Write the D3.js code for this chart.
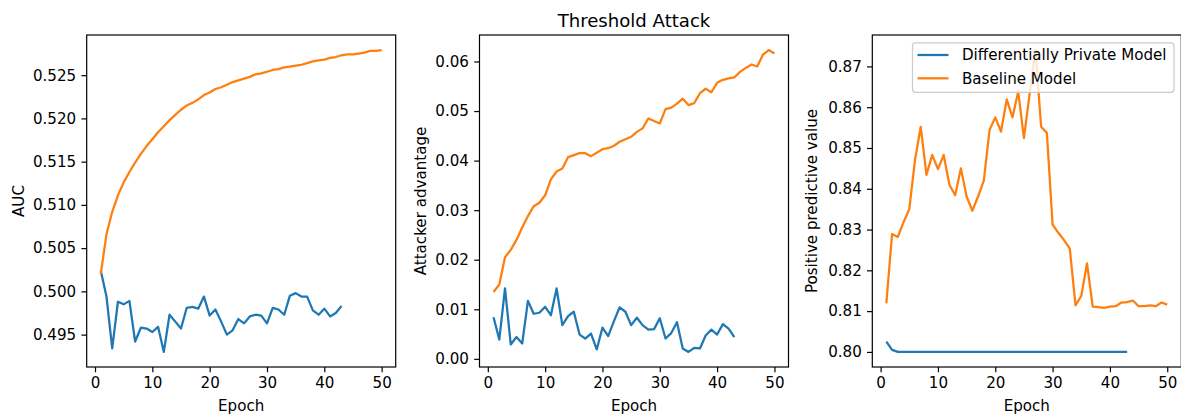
<!DOCTYPE html>
<html>
<head>
<meta charset="utf-8">
<script src="https://cdn.jsdelivr.net/npm/d3@7"></script>
<style>
  html, body { margin: 0; padding: 0; background: #fff; }
  svg { display: block; }
  text { font-family: "DejaVu Sans", sans-serif; fill: #000; }
</style>
</head>
<body>
<svg id="chart" width="1181" height="416"></svg>
<script>
// ---- data ----
const epochsDP = d3.range(1, 44);    // 1..43
const epochsBase = d3.range(1, 51);  // 1..50

const aucDP = [0.5024, 0.4994, 0.4934, 0.4988, 0.4985, 0.4989, 0.4942, 0.4958, 0.4957, 0.4953,
  0.4959, 0.4930, 0.4973, 0.4965, 0.4957, 0.4981, 0.4982, 0.4980, 0.4994, 0.4972,
  0.4979, 0.4965, 0.4950, 0.4955, 0.4968, 0.4963, 0.4971, 0.4973, 0.4972, 0.4963,
  0.4981, 0.4979, 0.4973, 0.4995, 0.4998, 0.4994, 0.4994, 0.4978, 0.4973, 0.4980,
  0.4971, 0.4975, 0.4983];
const aucBase = [0.5020, 0.5066, 0.5092, 0.5111, 0.5126, 0.5138, 0.5149, 0.5159, 0.5168, 0.5176,
  0.5184, 0.5191, 0.5198, 0.5204, 0.5210, 0.5215, 0.5218, 0.5222, 0.5227, 0.5230,
  0.5234, 0.5236, 0.5239, 0.5242, 0.5244, 0.5246, 0.5248, 0.5251, 0.5252, 0.5254,
  0.5256, 0.5257, 0.5259, 0.5260, 0.5261, 0.5262, 0.5264, 0.5266, 0.5267, 0.5268,
  0.5270, 0.5271, 0.5273, 0.5274, 0.5274, 0.5275, 0.5276, 0.5278, 0.5278, 0.5279];

const advDP = [0.0084, 0.0039, 0.0142, 0.0029, 0.0044, 0.0031, 0.0117, 0.0091, 0.0093, 0.0105,
  0.0088, 0.0142, 0.0068, 0.0086, 0.0095, 0.0049, 0.0041, 0.0051, 0.0019, 0.0063,
  0.0046, 0.0076, 0.0104, 0.0095, 0.0068, 0.0083, 0.0068, 0.0059, 0.0060, 0.0082,
  0.0041, 0.0052, 0.0074, 0.0021, 0.0014, 0.0022, 0.0021, 0.0047, 0.0059, 0.0049,
  0.0070, 0.0061, 0.0044];
const advBase = [0.0135, 0.0150, 0.0205, 0.0220, 0.0240, 0.0265, 0.0288, 0.0308, 0.0315, 0.0330,
  0.0362, 0.0378, 0.0384, 0.0407, 0.0411, 0.0415, 0.0415, 0.0409, 0.0416, 0.0423,
  0.0425, 0.0430, 0.0438, 0.0443, 0.0448, 0.0458, 0.0465, 0.0485, 0.0480, 0.0475,
  0.0504, 0.0507, 0.0515, 0.0525, 0.0512, 0.0516, 0.0536, 0.0545, 0.0538, 0.0557,
  0.0563, 0.0566, 0.0568, 0.0579, 0.0587, 0.0594, 0.0590, 0.0614, 0.0623, 0.0616];

const ppvDP = [0.8025, 0.8005, 0.8000, 0.8000, 0.8000, 0.8000, 0.8000, 0.8000, 0.8000, 0.8000,
  0.8000, 0.8000, 0.8000, 0.8000, 0.8000, 0.8000, 0.8000, 0.8000, 0.8000, 0.8000,
  0.8000, 0.8000, 0.8000, 0.8000, 0.8000, 0.8000, 0.8000, 0.8000, 0.8000, 0.8000,
  0.8000, 0.8000, 0.8000, 0.8000, 0.8000, 0.8000, 0.8000, 0.8000, 0.8000, 0.8000,
  0.8000, 0.8000, 0.8000];
const ppvBase = [0.8119, 0.8289, 0.8282, 0.8318, 0.8350, 0.8471, 0.8552, 0.8434, 0.8483, 0.8448,
  0.8483, 0.8410, 0.8384, 0.8450, 0.8381, 0.8346, 0.8381, 0.8420, 0.8544, 0.8575,
  0.8540, 0.8619, 0.8575, 0.8638, 0.8524, 0.8634, 0.8740, 0.8552, 0.8537, 0.8312,
  0.8292, 0.8274, 0.8253, 0.8114, 0.8137, 0.8217, 0.8111, 0.8110, 0.8108, 0.8111,
  0.8112, 0.8121, 0.8122, 0.8126, 0.8112, 0.8112, 0.8114, 0.8112, 0.8121, 0.8116];

const xTicks = [0, 10, 20, 30, 40, 50];
const yTicksAUC = [0.495, 0.500, 0.505, 0.510, 0.515, 0.520, 0.525];
const yTicksAdv = [0.00, 0.01, 0.02, 0.03, 0.04, 0.05, 0.06];
const yTicksPPV = [0.80, 0.81, 0.82, 0.83, 0.84, 0.85, 0.86, 0.87];

const seriesNames = ["Differentially Private Model", "Baseline Model"];
const colors = ["#1f77b4", "#ff7f0e"];
const chartTitle = "Threshold Attack";
const xLabel = "Epoch";

// ---- layout ----
const svg = d3.select("#chart");
const topY = 35, bottomY = 367, pw = 309;
const lefts = [86.7, 479.5, 872.3];

const panels = [
  { dp: aucDP, base: aucBase, yTicks: yTicksAUC, fmt: d3.format(".3f"), ylabel: "AUC", ylabelX: 18 },
  { dp: advDP, base: advBase, yTicks: yTicksAdv, fmt: d3.format(".2f"), ylabel: "Attacker advantage", ylabelX: 420 },
  { dp: ppvDP, base: ppvBase, yTicks: yTicksPPV, fmt: d3.format(".2f"), ylabel: "Positive predictive value", ylabelX: 811 }
];

const fontSize = 15.1;
const lw = 2.26, spineW = 1.2, tickLen = 5.27;

panels.forEach((p, i) => {
  const left = lefts[i];
  const xr = [1, 50];
  const xpad = (xr[1] - xr[0]) * 0.05;
  const x = d3.scaleLinear().domain([xr[0] - xpad, xr[1] + xpad]).range([left, left + pw]);
  const all = p.dp.concat(p.base);
  const [mn, mx] = d3.extent(all);
  const ypad = (mx - mn) * 0.05;
  const y = d3.scaleLinear().domain([mn - ypad, mx + ypad]).range([bottomY, topY]);

  const g = svg.append("g");

  // lines
  const line = (xs) => d3.line().x((d, j) => x(xs[j])).y(d => y(d));
  g.append("path").datum(p.dp)
    .attr("d", line(epochsDP))
    .attr("fill", "none").attr("stroke", colors[0]).attr("stroke-width", lw)
    .attr("stroke-linejoin", "round").attr("stroke-linecap", "butt");
  g.append("path").datum(p.base)
    .attr("d", line(epochsBase))
    .attr("fill", "none").attr("stroke", colors[1]).attr("stroke-width", lw)
    .attr("stroke-linejoin", "round").attr("stroke-linecap", "butt");

  // axes
  const xAxis = d3.axisBottom(x).tickValues(xTicks).tickSize(tickLen).tickPadding(tickLen).tickFormat(d3.format("d"));
  const yAxis = d3.axisLeft(y).tickValues(p.yTicks).tickSize(tickLen).tickPadding(tickLen).tickFormat(p.fmt);
  const gx = g.append("g").attr("transform", `translate(0,${bottomY})`).call(xAxis);
  const gy = g.append("g").attr("transform", `translate(${left},0)`).call(yAxis);
  [gx, gy].forEach(ax => {
    ax.select(".domain").remove();
    ax.selectAll(".tick line").attr("stroke", "#000").attr("stroke-width", spineW);
    ax.selectAll(".tick text").attr("font-size", fontSize).attr("font-family", "DejaVu Sans").attr("fill", "#000");
  });

  // frame
  g.append("rect").attr("x", left).attr("y", topY).attr("width", pw).attr("height", bottomY - topY)
    .attr("fill", "none").attr("stroke", "#000").attr("stroke-width", spineW);

  // labels
  g.append("text").attr("x", left + pw / 2).attr("y", 411)
    .attr("text-anchor", "middle").attr("font-size", fontSize).text(xLabel);
  g.append("text").attr("transform", `translate(${p.ylabelX + 5.5},${(topY + bottomY) / 2}) rotate(-90)`)
    .attr("text-anchor", "middle").attr("font-size", fontSize).text(p.ylabel);

  if (i === 1) {
    g.append("text").attr("x", left + pw / 2).attr("y", 27)
      .attr("text-anchor", "middle").attr("font-size", 18.1).text(chartTitle);
  }

  if (i === 2) {
    const lg = g.append("g");
    lg.append("rect").attr("x", 912.5).attr("y", 42.8).attr("width", 261.5).attr("height", 49.5)
      .attr("rx", 3).attr("fill", "#fff").attr("fill-opacity", 0.8)
      .attr("stroke", "#cccccc").attr("stroke-width", spineW);
    seriesNames.forEach((name, k) => {
      const yy = 55 + k * 23.3;
      lg.append("line").attr("x1", 917.5).attr("x2", 948.5).attr("y1", yy).attr("y2", yy)
        .attr("stroke", colors[k]).attr("stroke-width", lw);
      lg.append("text").attr("x", 962).attr("y", yy + 5.4).attr("font-size", fontSize).text(name);
    });
  }
});
</script>
</body>
</html>
